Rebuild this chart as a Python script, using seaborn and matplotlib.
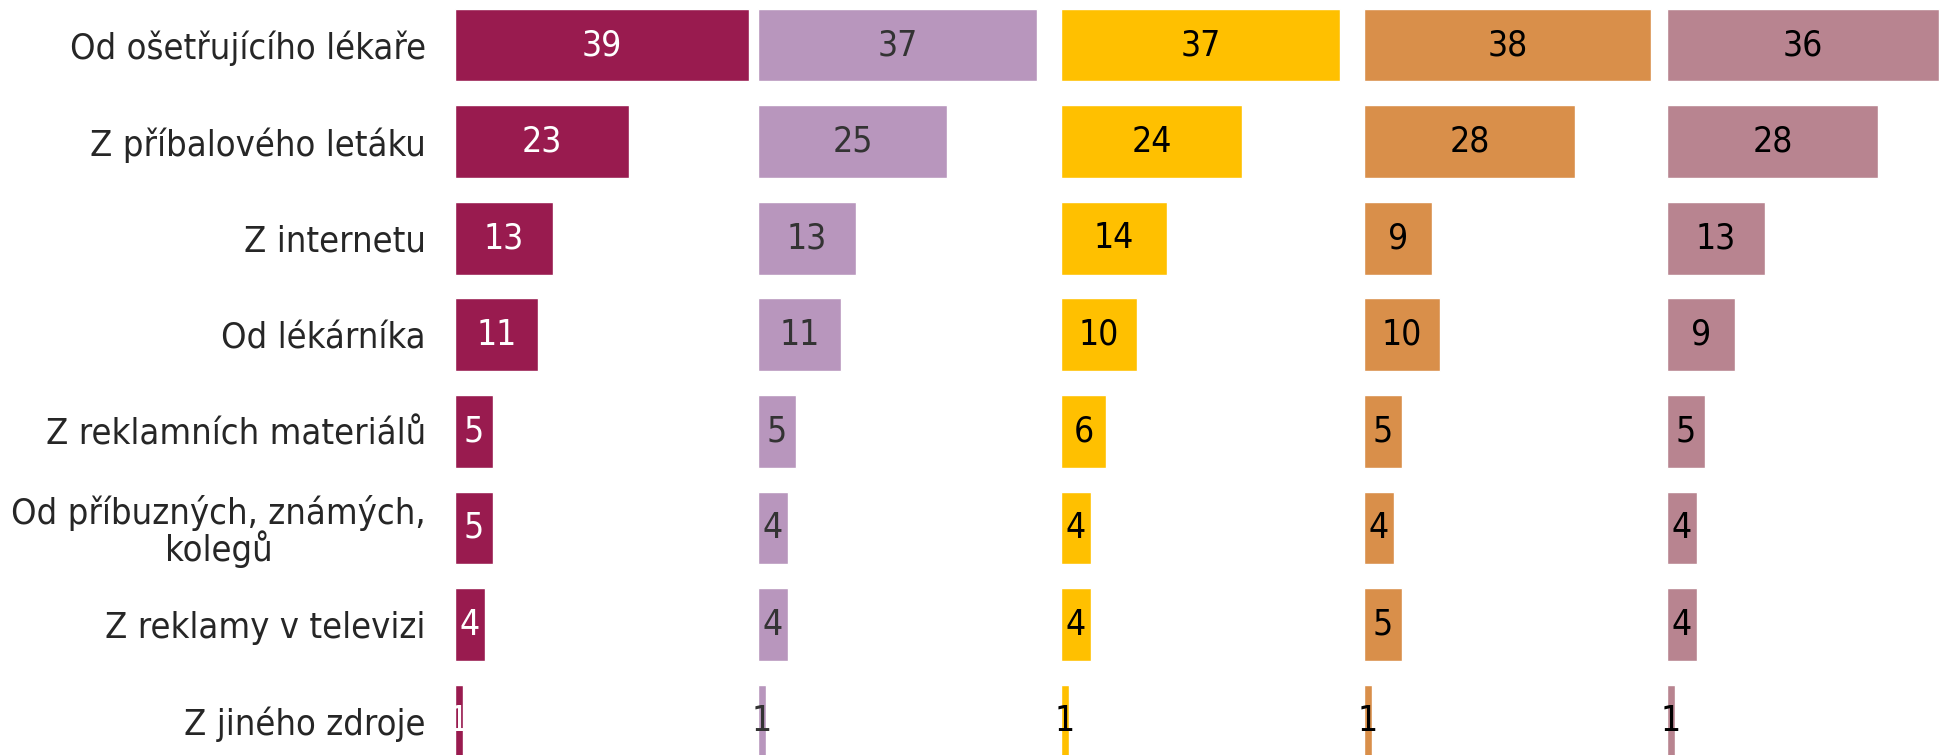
import matplotlib
matplotlib.use("Agg")
import matplotlib.pyplot as plt
import seaborn as sns
import pandas as pd

categories = [
    "Od ošetřujícího lékaře",
    "Z příbalového letáku",
    "Z internetu",
    "Od lékárníka",
    "Z reklamních materiálů",
    "Od příbuzných, známých,\nkolegů",
    "Z reklamy v televizi",
    "Z jiného zdroje",
]
groups = ["A", "B", "C", "D", "E"]
values = {
    "A": [39, 23, 13, 11, 5, 5, 4, 1],
    "B": [37, 25, 13, 11, 5, 4, 4, 1],
    "C": [37, 24, 14, 10, 6, 4, 4, 1],
    "D": [38, 28, 9, 10, 5, 4, 5, 1],
    "E": [36, 28, 13, 9, 5, 4, 4, 1],
}
colors = ["#991B4F", "#B896BD", "#FFC000", "#D98F4A", "#B88490"]
text_colors = ["white", "#333333", "black", "black", "black"]

rows = []
for g in groups:
    for c, v in zip(categories, values[g]):
        rows.append({"group": g, "category": c, "value": v})
df = pd.DataFrame(rows)

sns.set_style("white")
plt.rcParams["font.family"] = ["DejaVu Sans"]

W, H = 19.42, 7.55
fig = plt.figure(figsize=(W, H), dpi=100)

left0 = 455
step = 303
for i, g in enumerate(groups):
    x0 = left0 + i * step
    width = step if i < 4 else 1942 - x0
    ax = fig.add_axes([x0 / 1942, 0, width / 1942, 1])
    sub = df[df["group"] == g]
    sns.barplot(data=sub, x="value", y="category", orient="h", color=colors[i],
                width=0.755, saturation=1, ax=ax, order=categories)
    ax.set_xlim(0, width / 7.55)
    ax.set_ylim(7.35, -0.466)
    for p, v in zip(ax.patches, sub["value"]):
        ax.text(p.get_x() + p.get_width() / 2, p.get_y() + p.get_height() / 2, str(v),
                ha="center", va="center", color=text_colors[i], fontsize=25.5,
                fontstretch="condensed")
    ax.set_xlabel("")
    ax.set_ylabel("")
    ax.set_xticks([])
    sns.despine(ax=ax, left=True, bottom=True)
    if i == 0:
        ax.tick_params(axis="y", length=0, pad=21)
        for lab in ax.get_yticklabels():
            lab.set_fontsize(26)
            lab.set_fontstretch("condensed")
            lab.set_color("#262626")
            lab.set_multialignment("center")
            lab.set_linespacing(1.0)
    else:
        ax.set_yticks([])

fig.savefig("out.png", dpi=100)
